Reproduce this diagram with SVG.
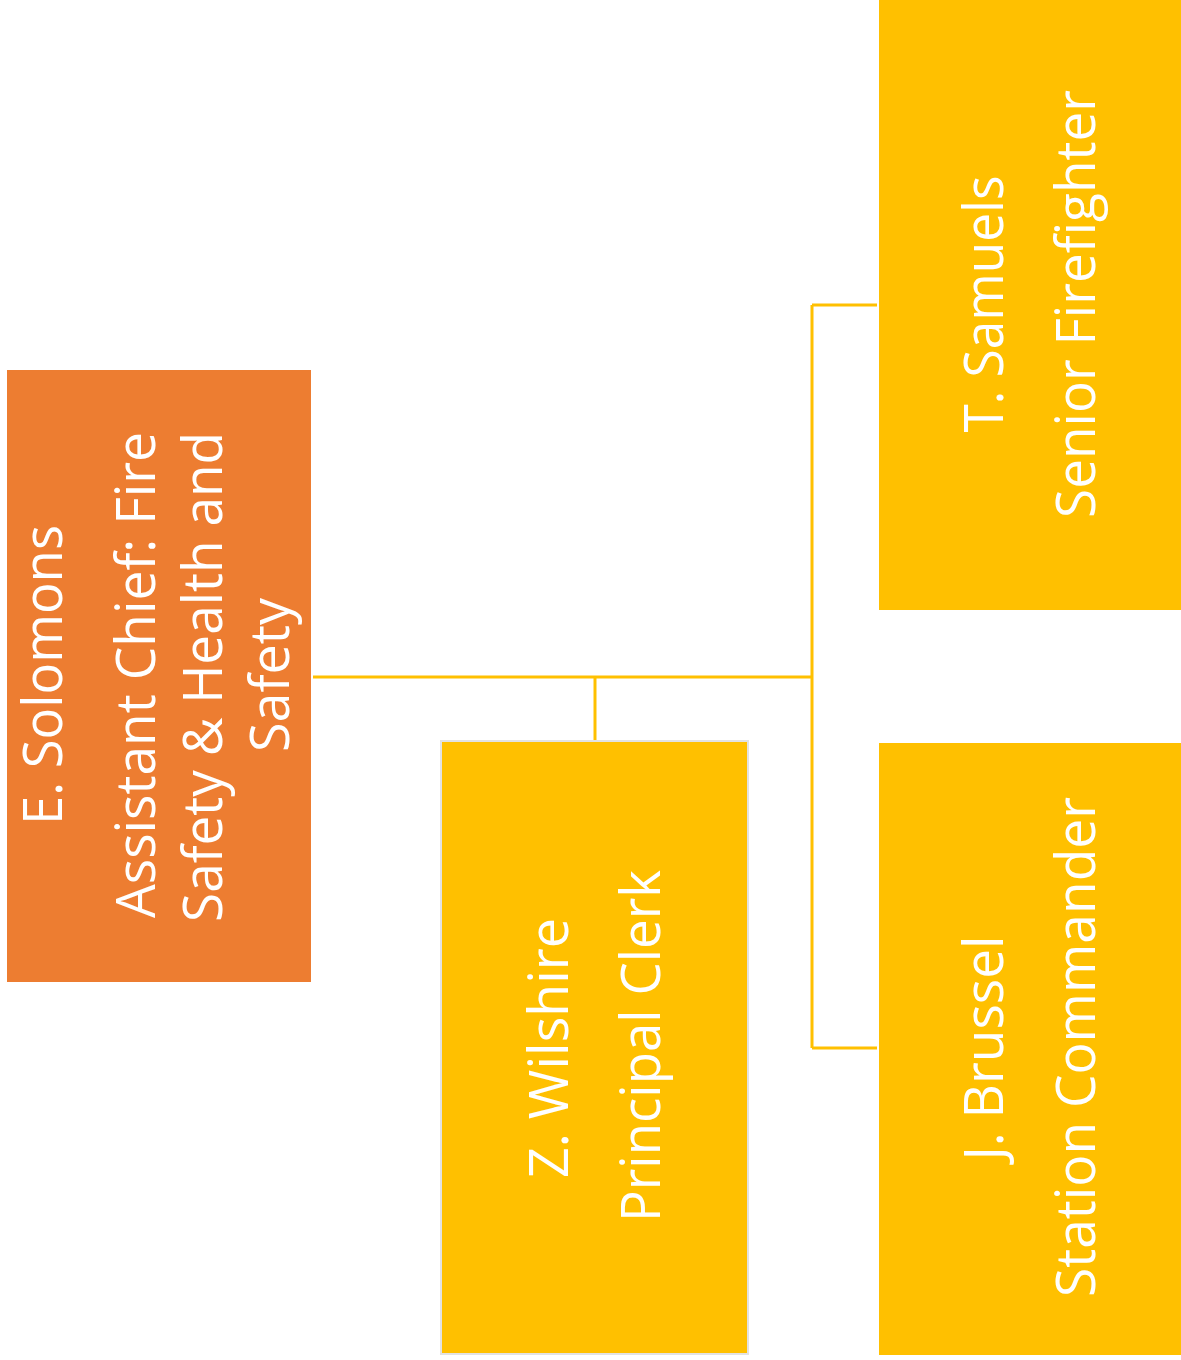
<svg xmlns="http://www.w3.org/2000/svg" width="1181" height="1360" viewBox="0 0 1181 1360">
<style>
.lbl{font-family:"Open Sans","Liberation Sans",sans-serif;font-size:55px;fill:#ffffff;text-anchor:middle}
.conn{stroke:#FFC000;stroke-width:3;fill:none}
.orange{fill:#ED7D31}
.yellow{fill:#FFC000}
</style>
<rect width="1181" height="1360" fill="#ffffff"/>
<g id="connectors">
<path class="conn" d="M313,677 H812"/>
<path class="conn" d="M595,677 V741"/>
<path class="conn" d="M812,305 V1048"/>
<path class="conn" d="M812,305 H877"/>
<path class="conn" d="M812,1048 H877"/>
</g>
<g id="node-solomons">
<rect class="orange" x="7" y="370" width="304" height="612"/>
<text class="lbl" transform="translate(62,675) rotate(-90)" textLength="300" lengthAdjust="spacingAndGlyphs">E. Solomons</text>
<text class="lbl" transform="translate(155,675) rotate(-90)" textLength="486" lengthAdjust="spacingAndGlyphs">Assistant Chief: Fire</text>
<text class="lbl" transform="translate(222,677) rotate(-90)" textLength="490" lengthAdjust="spacingAndGlyphs">Safety &amp; Health and</text>
<text class="lbl" transform="translate(289,675) rotate(-90)" textLength="154" lengthAdjust="spacingAndGlyphs">Safety</text>
</g>
<g id="node-wilshire">
<rect class="yellow" x="441" y="741" width="307" height="613" stroke="#e2e2e2" stroke-width="2"/>
<text class="lbl" transform="translate(568,1048) rotate(-90)" textLength="260" lengthAdjust="spacingAndGlyphs">Z. Wilshire</text>
<text class="lbl" transform="translate(660,1046) rotate(-90)" textLength="352" lengthAdjust="spacingAndGlyphs">Principal Clerk</text>
</g>
<g id="node-samuels">
<rect class="yellow" x="879" y="0" width="302" height="610"/>
<text class="lbl" transform="translate(1003,304) rotate(-90)" textLength="257" lengthAdjust="spacingAndGlyphs">T. Samuels</text>
<text class="lbl" transform="translate(1095,304) rotate(-90)" textLength="428" lengthAdjust="spacingAndGlyphs">Senior Firefighter</text>
</g>
<g id="node-brussel">
<rect class="yellow" x="879" y="743" width="302" height="612"/>
<text class="lbl" transform="translate(1003,1048) rotate(-90)" textLength="225" lengthAdjust="spacingAndGlyphs">J. Brussel</text>
<text class="lbl" transform="translate(1095,1047) rotate(-90)" textLength="500" lengthAdjust="spacingAndGlyphs">Station Commander</text>
</g>
</svg>
